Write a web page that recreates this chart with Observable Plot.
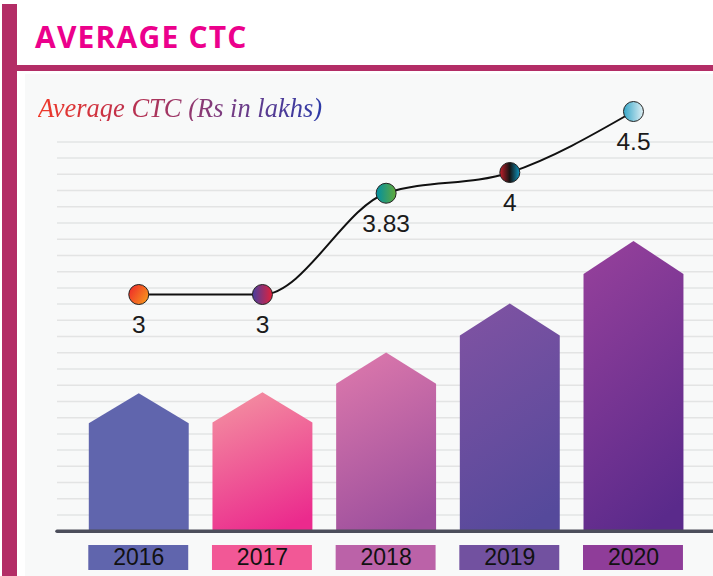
<!DOCTYPE html>
<html>
<head>
<meta charset="utf-8">
<script src="https://cdn.jsdelivr.net/npm/d3@7"></script>
<script src="https://cdn.jsdelivr.net/npm/@observablehq/plot@0.6"></script>
<style>
  html, body { margin: 0; padding: 0; background: #fff; }
  #root { position: relative; width: 713px; height: 576px; overflow: hidden; background: #fff; }
  .lbar { position: absolute; left: 2px; top: 4px; width: 15px; height: 572px; background: #b32d66; }
  .hbar { position: absolute; left: 17px; top: 65px; width: 696px; height: 6px; background: #b32d66; }
  .panel { position: absolute; left: 25px; top: 74px; width: 688px; height: 502px; background: #f8f9f9; }
  .title { position: absolute; left: 35px; top: 21.7px; font: 700 30px/30px "Open Sans", sans-serif; color: #ec008c; letter-spacing: 1.2px; white-space: nowrap; }
  .sub { position: absolute; left: 38px; top: 94.5px; font: italic 400 26.5px/26.5px "Liberation Serif", "Times New Roman", serif; white-space: nowrap;
         background: linear-gradient(90deg, #f03a2a 0%, #c0304a 30%, #7c3c80 65%, #2c3aa8 100%);
         -webkit-background-clip: text; background-clip: text; color: transparent; display: inline-block; }
  .layer { position: absolute; left: 0; }
</style>
</head>
<body>
<div id="root">
  <div class="lbar"></div>
  <div class="hbar"></div>
  <div class="panel"></div>
  <div class="title">AVERAGE CTC</div>
  <div class="sub">Average CTC (Rs in lakhs)</div>
  <svg width="0" height="0" style="position:absolute;left:0;top:0">
    <defs>
      <linearGradient id="bg2016" x1="0.35" y1="0" x2="0.65" y2="1"><stop offset="0" stop-color="#6065ad"/><stop offset="1" stop-color="#6065ad"/></linearGradient>
      <linearGradient id="bg2017" x1="0.35" y1="0" x2="0.65" y2="1"><stop offset="0" stop-color="#f38ca0"/><stop offset="1" stop-color="#eb2a8d"/></linearGradient>
      <linearGradient id="bg2018" x1="0.35" y1="0" x2="0.65" y2="1"><stop offset="0" stop-color="#d976ab"/><stop offset="1" stop-color="#9c4f9d"/></linearGradient>
      <linearGradient id="bg2019" x1="0.35" y1="0" x2="0.65" y2="1"><stop offset="0" stop-color="#7d52a2"/><stop offset="1" stop-color="#55499b"/></linearGradient>
      <linearGradient id="bg2020" x1="0.35" y1="0" x2="0.65" y2="1"><stop offset="0" stop-color="#923f9a"/><stop offset="1" stop-color="#5a2a8b"/></linearGradient>
      <linearGradient id="dg2016" x1="0" y1="0.2" x2="1" y2="0.8"><stop offset="0" stop-color="#ee2a2a"/><stop offset="1" stop-color="#f89a1c"/></linearGradient>
      <linearGradient id="dg2017" x1="0" y1="0" x2="1" y2="0"><stop offset="0" stop-color="#463fa0"/><stop offset="1" stop-color="#e3203a"/></linearGradient>
      <linearGradient id="dg2018" x1="0" y1="0" x2="1" y2="0"><stop offset="0" stop-color="#008fa3"/><stop offset="1" stop-color="#62aa38"/></linearGradient>
      <linearGradient id="dg2019" x1="0" y1="0" x2="1" y2="0"><stop offset="0" stop-color="#c81e2a"/><stop offset="0.5" stop-color="#141414"/><stop offset="1" stop-color="#0f96c0"/></linearGradient>
      <linearGradient id="dg2020" x1="0" y1="0" x2="1" y2="0"><stop offset="0" stop-color="#35a6c8"/><stop offset="1" stop-color="#e0f0f5"/></linearGradient>
    </defs>
  </svg>
  <div id="main" class="layer" style="top:74px"></div>
  <div id="line" class="layer" style="top:74px"></div>
  <div id="years" class="layer" style="top:545px"></div>
</div>
<script>
// ---- data ----
const years = [2016, 2017, 2018, 2019, 2020];
const ctc = [3, 3, 3.83, 4, 4.5];
const ctcLabels = ["3", "3", "3.83", "4", "4.5"];
// decorative bar heights, read in gridline units above the baseline
const barShoulder = [6.66, 6.70, 9.09, 12.07, 15.86];
const barPeak = [8.51, 8.57, 11.02, 14.04, 17.89];
const gridLines = d3.range(1, 25);

// ---- styles ----
const boxColors = ["#6065ad", "#f25896", "#bb62a8", "#7251a0", "#8f3d99"];
const xDomain = [2015.343, 2020.647];
const halfW = 0.404;
const font = "'Liberation Sans', Arial, sans-serif";

const barVerts = years.flatMap((yr, i) => [
  {year: yr, x: yr - halfW, y: 0},
  {year: yr, x: yr - halfW, y: barShoulder[i]},
  {year: yr, x: yr, y: barPeak[i]},
  {year: yr, x: yr + halfW, y: barShoulder[i]},
  {year: yr, x: yr + halfW, y: 0}
]);

const pts = years.map((yr, i) => ({year: yr, ctc: ctc[i], label: ctcLabels[i]}));

const common = {
  width: 713, marginLeft: 57, marginRight: 0,
  style: {background: "transparent", overflow: "visible", fontFamily: font},
  x: {type: "linear", domain: xDomain, axis: null}
};

const main = Plot.plot({
  ...common,
  height: 466, marginTop: 67.4, marginBottom: 9.3,
  y: {domain: [0, 24], axis: null},
  color: {type: "ordinal", domain: years, range: years.map(y => `url(#bg${y})`)},
  marks: [
    Plot.ruleY(gridLines, {stroke: "#e3e4e4", strokeWidth: 1.5}),
    Plot.line(barVerts, {x: "x", y: "y", z: "year", fill: "year", stroke: "none"}),
    Plot.ruleY([0], {stroke: "#4c4e5b", strokeWidth: 3.5, strokeLinecap: "round"})
  ]
});
document.getElementById("main").append(main);

const line = Plot.plot({
  ...common,
  height: 466, marginTop: 37, marginBottom: 246,
  y: {domain: [3, 4.5], axis: null},
  color: {type: "ordinal", domain: years, range: years.map(y => `url(#dg${y})`)},
  marks: [
    Plot.line(pts, {x: "year", y: "ctc", curve: "monotone-x", stroke: "#111", strokeWidth: 2}),
    Plot.dot(pts, {x: "year", y: "ctc", r: 10, fill: "year", stroke: "#222", strokeWidth: 1}),
    Plot.text(pts, {x: "year", y: "ctc", text: "label", dy: 31, fontSize: 24.5, fill: "#1b1b1b", fontFamily: font})
  ]
});
document.getElementById("line").append(line);

const yearsPlot = Plot.plot({
  ...common,
  height: 25, marginTop: 0, marginBottom: 0,
  color: {type: "ordinal", domain: years, range: boxColors},
  marks: [
    Plot.barX(years, {x1: d => d - halfW, x2: d => d + halfW, fill: d => d}),
    Plot.text(years, {x: d => d, text: d => String(d), fontSize: 23, fill: "#111", fontFamily: font})
  ]
});
document.getElementById("years").append(yearsPlot);
</script>
</body>
</html>
